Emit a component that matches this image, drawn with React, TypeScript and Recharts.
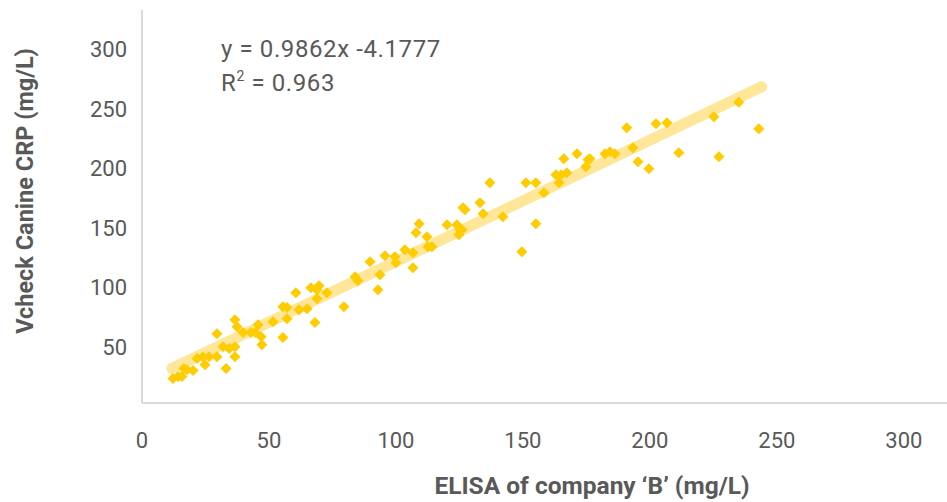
import { ScatterChart, Scatter, XAxis, YAxis } from "recharts";

// ELISA (company B) readings vs Vcheck readings, mg/L
const elisaB = [
  12.2, 14.2, 15.7, 16.5, 17.7, 20.1, 21.7, 24.0, 24.8, 26.4, 29.5, 29.5, 31.9, 33.1, 34.3, 36.6,
  36.6, 36.6, 37.4, 39.8, 42.9, 44.5, 45.7, 46.9, 47.2, 51.6, 55.5, 55.5, 57.1, 57.1, 60.6, 61.8,
  65.0, 66.5, 68.9, 69.7, 68.9, 68.1, 72.8, 79.5, 83.9, 85.0, 89.8, 92.9, 93.7, 95.7, 99.6, 100.0,
  103.5, 106.7, 106.7, 107.9, 109.1, 112.2, 112.6, 114.2, 120.1, 124.0, 125.2, 126.0, 124.8, 126.4,
  127.2, 133.1, 134.3, 137.0, 142.1, 149.6, 151.2, 155.1, 155.1, 158.3, 163.0, 164.2, 165.0, 167.3,
  166.1, 171.3, 174.8, 175.6, 176.4, 182.3, 184.3, 186.2, 190.9, 193.3, 195.3, 199.6, 202.4, 206.7,
  211.4, 225.2, 227.2, 235.0, 242.9,
];
const vcheck = [
  23.5, 25.2, 25.2, 31.9, 31.0, 30.2, 40.3, 41.9, 35.2, 41.9, 41.9, 61.2, 50.3, 31.9, 48.7, 50.3,
  41.9, 73.0, 67.1, 62.1, 62.1, 62.1, 68.8, 58.7, 52.0, 71.3, 57.9, 83.9, 83.1, 73.8, 95.6, 81.4,
  82.2, 99.8, 98.2, 101.5, 90.6, 70.5, 95.6, 83.9, 109.1, 105.7, 121.6, 98.2, 110.7, 126.7, 125.8, 120.8,
  131.7, 129.2, 116.6, 146.0, 153.5, 142.6, 134.2, 134.2, 152.7, 152.7, 148.5, 148.5, 144.3, 166.9,
  165.3, 171.1, 161.9, 187.9, 159.4, 130.0, 187.9, 187.9, 153.5, 179.5, 194.6, 187.9, 194.6, 196.3,
  208.1, 212.2, 201.3, 207.2, 208.1, 212.2, 213.9, 212.2, 234.1, 217.3, 205.5, 199.7, 237.4, 238.3,
  213.1, 243.3, 209.7, 255.5, 233.2,
];

// trendline ends as drawn in the chart
const trendX = [11.8, 244];
const trendY = [31.9, 268.5];

const xTicks = [0, 50, 100, 150, 200, 250, 300];
const yTicks = [50, 100, 150, 200, 250, 300];

const points = elisaB.map((x, i) => ({ x, y: vcheck[i] }));
const trend = trendX.map((x, i) => ({ x, y: trendY[i] }));

const FONT = "Roboto, 'Liberation Sans', sans-serif";
const GREY = "#595959";

const Diamond = (props: any) => {
  const { cx, cy } = props;
  const r = 5.5;
  return (
    <polygon
      points={`${cx},${cy - r} ${cx + r},${cy} ${cx},${cy + r} ${cx - r},${cy}`}
      fill="#FFCC00"
    />
  );
};

export default function App() {
  return (
    <div style={{ position: "absolute", left: 0, top: 0, width: 947, height: 502, background: "#fff" }}>
      <ScatterChart width={947} height={502} margin={{ top: 10, right: 0, bottom: 0, left: 0 }}>
        <XAxis
          type="number"
          dataKey="x"
          domain={[0, 317]}
          ticks={xTicks}
          height={99}
          tickLine={false}
          tickMargin={23}
          axisLine={{ stroke: "#D9D9D9", strokeWidth: 2 }}
          tick={{ fontSize: 22, fill: GREY, fontFamily: FONT }}
          allowDataOverflow
        />
        <YAxis
          type="number"
          dataKey="y"
          domain={[3, 333]}
          ticks={yTicks}
          width={142}
          tickLine={false}
          tickMargin={9}
          axisLine={{ stroke: "#D9D9D9", strokeWidth: 2 }}
          tick={{ fontSize: 22, fill: GREY, fontFamily: FONT }}
          allowDataOverflow
        />
        <Scatter
          data={trend}
          line={{ stroke: "#FFE699", strokeWidth: 11, strokeLinecap: "round" }}
          shape={() => <g />}
          isAnimationActive={false}
        />
        <Scatter data={points} shape={Diamond} isAnimationActive={false} />
      </ScatterChart>
      <svg
        width={947}
        height={502}
        style={{ position: "absolute", left: 0, top: 0, pointerEvents: "none" }}
      >
        <text x={221} y={57} fontSize={24} letterSpacing={0.6} fill={GREY} fontFamily={FONT}>
          y = 0.9862x -4.1777
        </text>
        <text x={221} y={91} fontSize={24} letterSpacing={0.6} fill={GREY} fontFamily={FONT}>
          R<tspan fontSize={14} dy={-10}>2</tspan>
          <tspan dy={10}> = 0.963</tspan>
        </text>
        <text
          x={592}
          y={494}
          textAnchor="middle"
          fontSize={24.5}
          fontWeight="bold"
          fill={GREY}
          fontFamily={FONT}
        >
          ELISA of company ‘B’ (mg/L)
        </text>
        <text
          transform="translate(33,191) rotate(-90)"
          textAnchor="middle"
          fontSize={23.5}
          fontWeight="bold"
          fill={GREY}
          fontFamily={FONT}
        >
          Vcheck Canine CRP (mg/L)
        </text>
      </svg>
    </div>
  );
}
